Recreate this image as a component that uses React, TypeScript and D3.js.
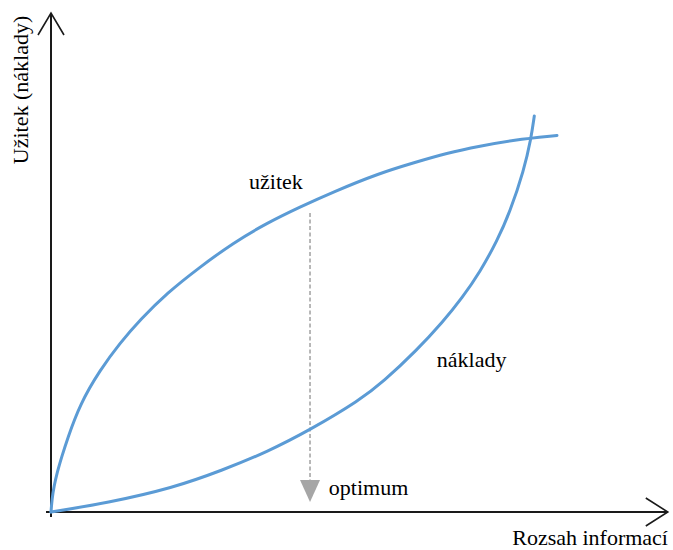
import React from "react";
import * as d3 from "d3";

const W = 673;
const H = 550;

// abstract units: x 0..102.8, y 0..99.8
const uzitekX = [0, 0.17, 0.5, 1, 1.83, 2.67, 4.83, 8.17, 11.5, 14.83, 19.33, 24.83, 30.33, 36, 41.5, 47, 54.83, 60.33, 66, 71.5, 77, 84.33];
const uzitekY = [0, 2.6, 5.1, 7.8, 11.2, 14.4, 21.6, 28.4, 33.8, 38.4, 43.8, 49, 53.8, 57.8, 61, 64, 67.8, 69.8, 71.8, 73.2, 74.4, 75.3];

const nakladyX = [0, 9.33, 20.33, 28.67, 36, 43.17, 51.5, 55.33, 61, 65.33, 68.5, 71.5, 74.33, 76.5, 78.83, 80, 80.55];
const nakladyY = [0, 1.8, 4.8, 8.4, 12, 16.4, 22.4, 26, 32.4, 38.06, 42.8, 48, 54.2, 60, 68.4, 74.6, 79.2];

const optimumX = 43.17;
const optimumTop = 59.8;
const optimumBottom = 6.4;
const optimumTip = 2;

const xAxisEnd = 102.8;
const yAxisEnd = 99.8;

const labels = [
  { text: "užitek", x: 33, y: 64.6 },
  { text: "náklady", x: 64.3, y: 29 },
  { text: "optimum", x: 46.3, y: 3.4 },
];
const xTitle = "Rozsah informací";
const yTitle = "Užitek (náklady)";

export default function App() {
  const x = d3.scaleLinear().domain([0, 100]).range([51, 651]);
  const y = d3.scaleLinear().domain([0, 100]).range([512, 12]);
  const line = d3
    .line<[number, number]>()
    .x((d) => x(d[0]))
    .y((d) => y(d[1]))
    .curve(d3.curveBasis);
  const uz = uzitekX.map((v, i) => [v, uzitekY[i]] as [number, number]);
  const nk = nakladyX.map((v, i) => [v, nakladyY[i]] as [number, number]);
  const blue = "#5b9bd5";
  const axisCol = "#1a1a1a";
  const font = "'Liberation Serif', 'Times New Roman', serif";

  const x0 = x(0), y0 = y(0);
  const xe = x(xAxisEnd), ye = y(yAxisEnd);
  const ox = x(optimumX);

  return (
    <svg width={W} height={H} style={{ position: "absolute", left: 0, top: 0, background: "#fff" }}>
      {/* axes */}
      <line x1={x0 - 5} y1={y0} x2={xe} y2={y0} stroke={axisCol} strokeWidth={2} />
      <line x1={x0} y1={y0 + 5} x2={x0} y2={ye} stroke={axisCol} strokeWidth={2} />
      <polyline
        points={`${xe - 22},${y0 - 14} ${xe},${y0} ${xe - 22},${y0 + 14}`}
        fill="none"
        stroke={axisCol}
        strokeWidth={1.6}
      />
      <polyline
        points={`${x0 - 13},${ye + 22} ${x0},${ye} ${x0 + 13},${ye + 22}`}
        fill="none"
        stroke={axisCol}
        strokeWidth={1.6}
      />
      {/* dashed optimum line */}
      <line
        x1={ox}
        y1={y(optimumTop)}
        x2={ox}
        y2={y(optimumBottom)}
        stroke="#a6a6a6"
        strokeWidth={1.6}
        strokeDasharray="4 2.5"
      />
      <polygon
        points={`${ox - 10},${y(optimumBottom)} ${ox + 10},${y(optimumBottom)} ${ox},${y(optimumTip)}`}
        fill="#a6a6a6"
      />
      {/* curves */}
      <path d={line(uz) || ""} fill="none" stroke={blue} strokeWidth={3} strokeLinecap="round" />
      <path d={line(nk) || ""} fill="none" stroke={blue} strokeWidth={3} strokeLinecap="round" />
      {/* labels */}
      {labels.map((l) => (
        <text key={l.text} x={x(l.x)} y={y(l.y)} fontFamily={font} fontSize={22} fill="#000">
          {l.text}
        </text>
      ))}
      <text x={668} y={545} textAnchor="end" fontFamily={font} fontSize={22} fill="#000">
        {xTitle}
      </text>
      <text
        transform={`translate(28,90) rotate(-90)`}
        textAnchor="middle"
        fontFamily={font}
        fontSize={22}
        fill="#000"
      >
        {yTitle}
      </text>
    </svg>
  );
}
